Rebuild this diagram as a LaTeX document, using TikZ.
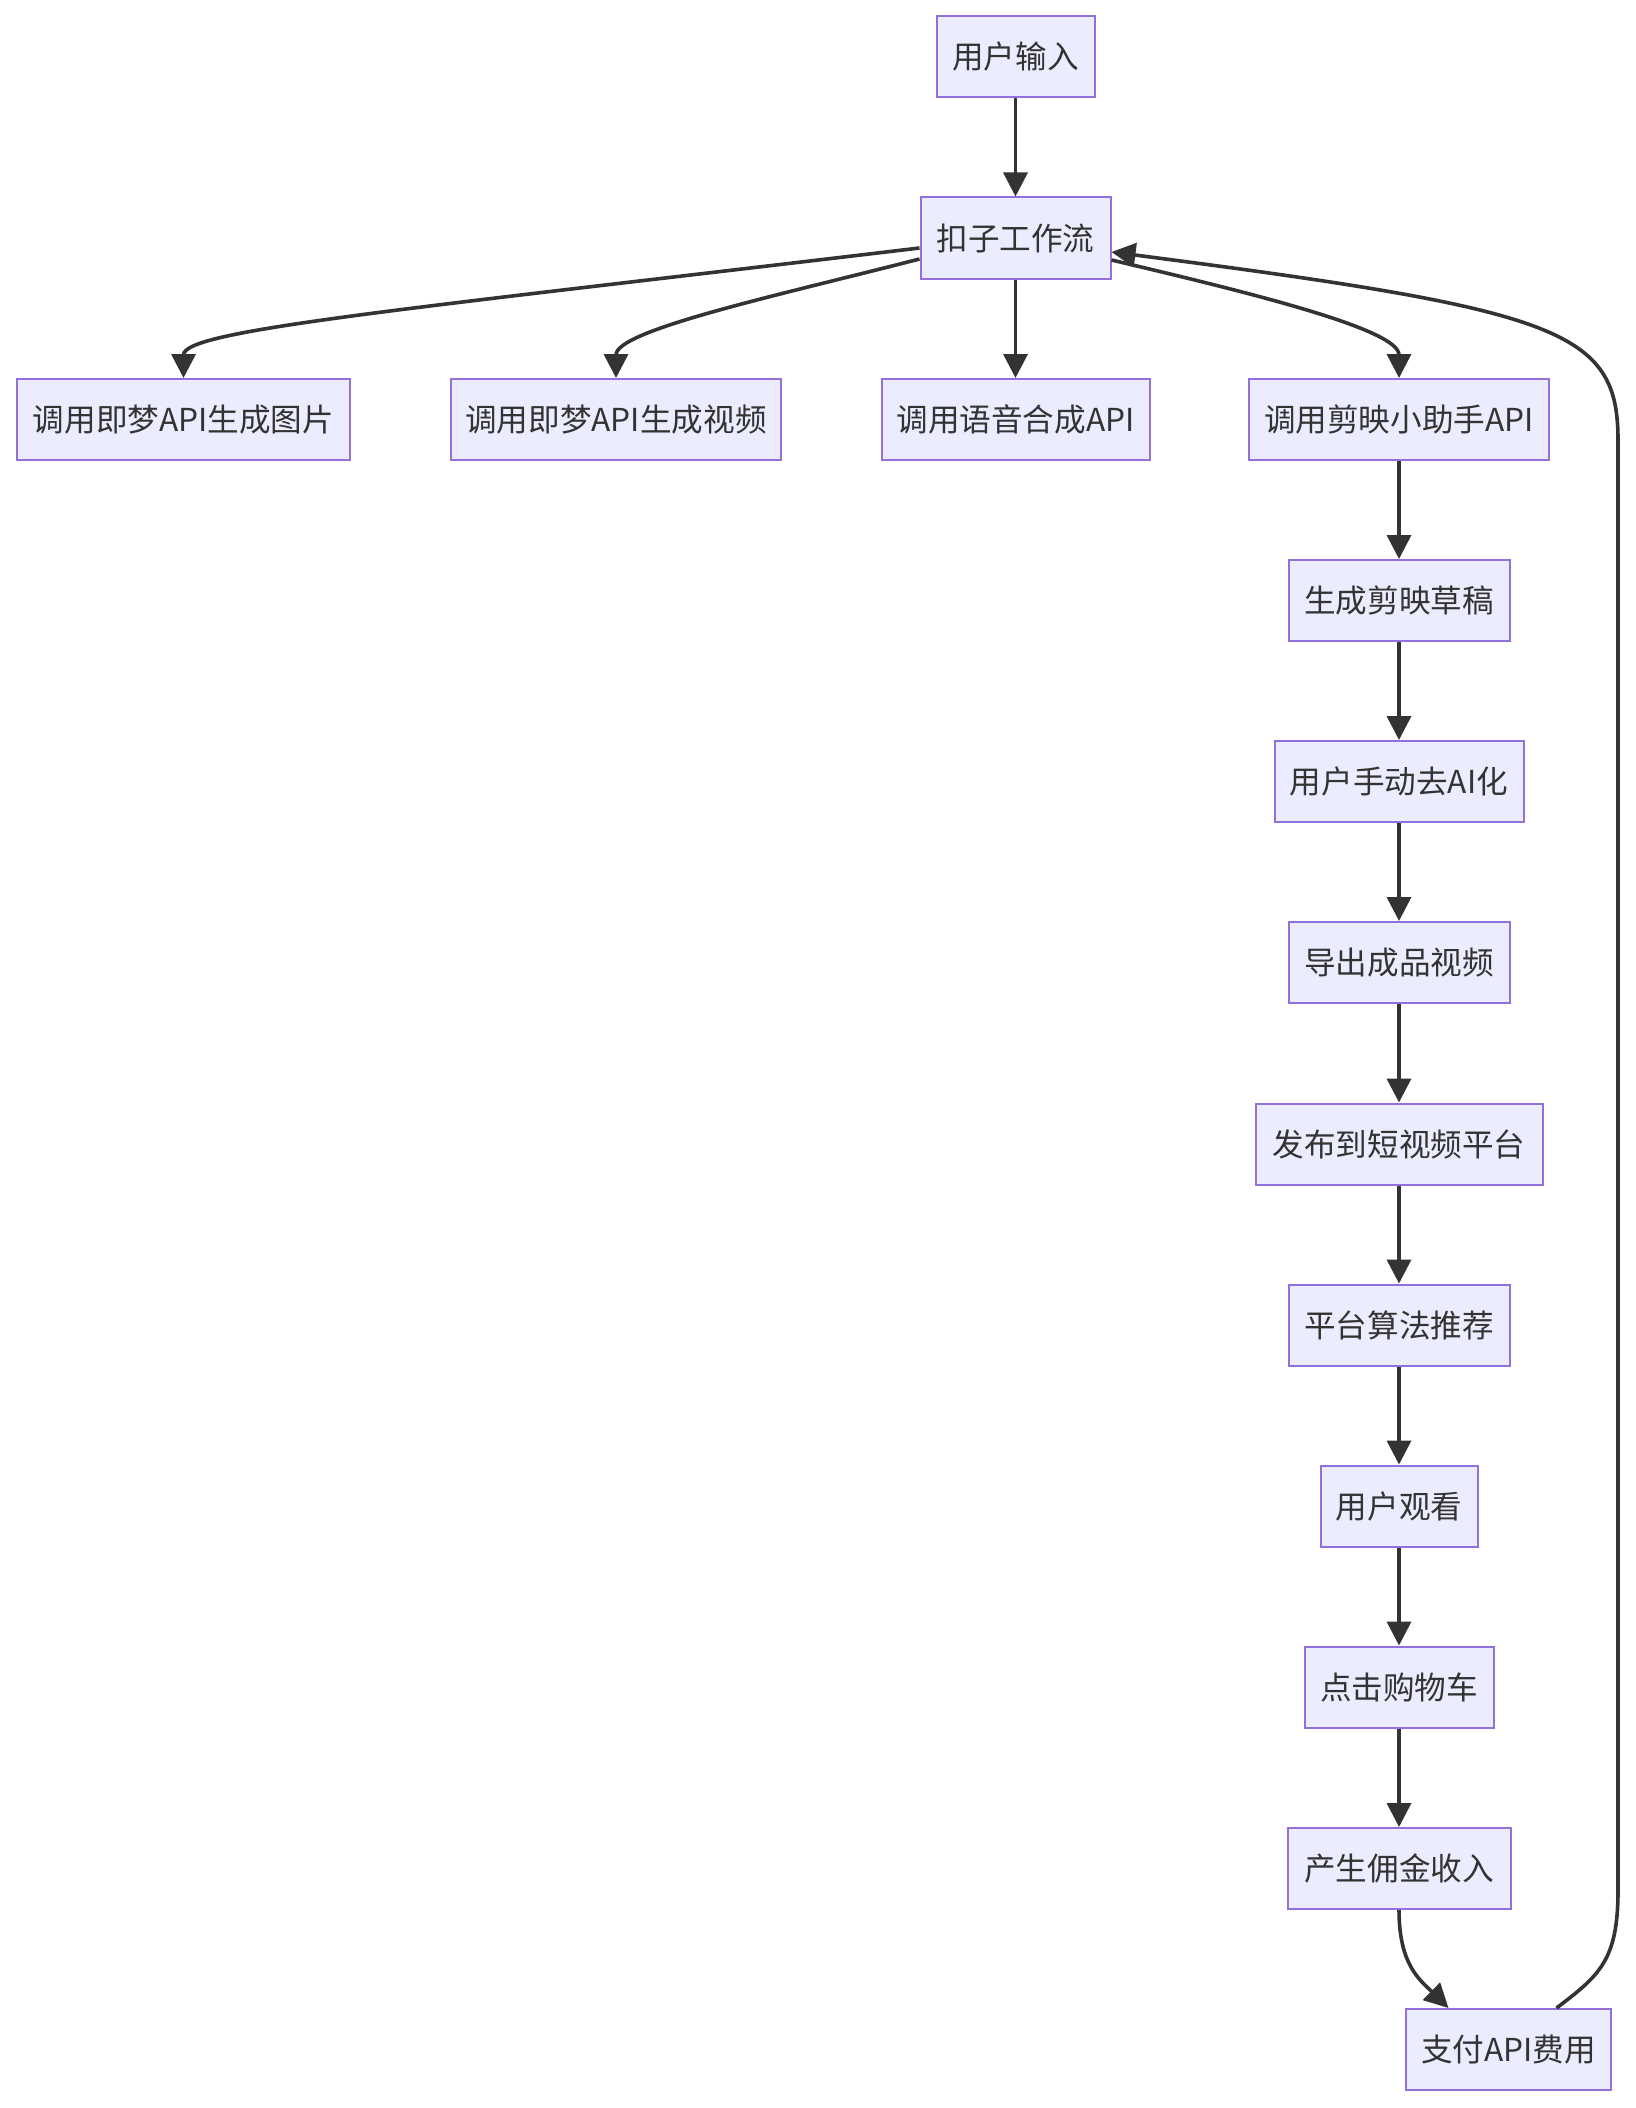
\documentclass[tikz,border=0pt]{standalone}
\usepackage{fontspec}
\setmainfont{Noto Sans CJK SC}
\usetikzlibrary{arrows.meta}
\definecolor{nodefill}{HTML}{ECECFF}
\definecolor{nodeline}{HTML}{9370DB}
\definecolor{edgecol}{HTML}{333333}
\begin{document}
\begin{tikzpicture}[x=0.5pt,y=-0.5pt,
 box/.style={draw=nodeline,fill=nodefill,line width=1pt,inner sep=0pt,minimum height=40.5pt,text=edgecol,font=\fontsize{15.8pt}{19pt}\selectfont},
 flow/.style={draw=edgecol,line width=1.8pt,-{Triangle[length=12pt,width=12pt]}}]
\fill[white] (0,0) rectangle (1636,2108);
\useasboundingbox (0,0) rectangle (1636,2108);

\node[box,minimum width=79pt]   (n1)  at (1015.5,56.5)   {用户输入};
\node[box,minimum width=95pt]   (n2)  at (1015.5,238)    {扣子工作流};
\node[box,minimum width=166.5pt] (n3) at (183.5,419.5) {调用即梦API生成图片};
\node[box,minimum width=165pt]  (n4)  at (616,419.5)   {调用即梦API生成视频};
\node[box,minimum width=134pt]  (n5)  at (1015.5,419.5)  {调用语音合成API};
\node[box,minimum width=150pt]  (n6)  at (1399,419.5)  {调用剪映小助手API};
\node[box,minimum width=110.5pt] (n7) at (1399,600.5)  {生成剪映草稿};
\node[box,minimum width=124.5pt] (n8) at (1399,781.5)  {用户手动去AI化};
\node[box,minimum width=110.5pt] (n9) at (1399,962.5)  {导出成品视频};
\node[box,minimum width=143.5pt] (n10) at (1399,1144)  {发布到短视频平台};
\node[box,minimum width=110.5pt] (n11) at (1399,1325)  {平台算法推荐};
\node[box,minimum width=78.5pt] (n12) at (1399,1506)   {用户观看};
\node[box,minimum width=94.5pt] (n13) at (1399,1687)   {点击购物车};
\node[box,minimum width=111.5pt] (n14) at (1399,1868.5) {产生佣金收入};
\node[box,minimum width=102.5pt] (n15) at (1508.5,2049.5) {支付API费用};

\coordinate (r1) at (1618,1890);
\coordinate (r2) at (1618,440);

\draw[flow] (n1.south) -- (n2.north);
\draw[flow] ([yshift=-5pt]n2.west) .. controls (400,310) and (183.5,330) .. (n3.north);
\draw[flow] ([yshift=-10.5pt]n2.west) .. controls (780,295) and (616,330) .. (n4.north);
\draw[flow] (n2.south) -- (n5.north);
\draw[flow] ([yshift=-11pt]n2.east) .. controls (1260,295) and (1399,330) .. (n6.north);
\draw[flow] (n6.south) -- (n7.north);
\draw[flow] (n7.south) -- (n8.north);
\draw[flow] (n8.south) -- (n9.north);
\draw[flow] (n9.south) -- (n10.north);
\draw[flow] (n10.south) -- (n11.north);
\draw[flow] (n11.south) -- (n12.north);
\draw[flow] (n12.south) -- (n13.north);
\draw[flow] (n13.south) -- (n14.north);
\draw[flow] (n14.south) .. controls (1399,1965) and (1420,1980) .. ([xshift=-30pt]n15.north);
\draw[flow] ([xshift=24pt]n15.north) .. controls (1600,1975) and (1618,1960) .. (r1)
  -- (r2) .. controls (1618,330) and (1560,310) .. ([yshift=-7pt]n2.east);
\end{tikzpicture}
\end{document}
